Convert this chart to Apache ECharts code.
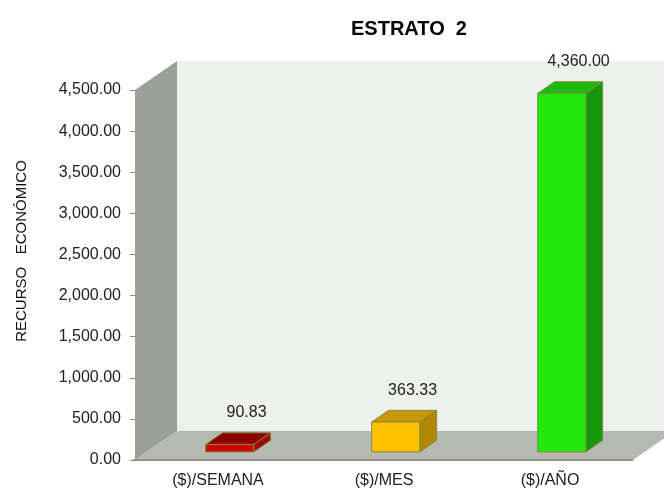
<!DOCTYPE html>
<html>
<head>
<meta charset="utf-8">
<script src="https://cdn.jsdelivr.net/npm/echarts@6/dist/echarts.min.js"></script>
<style>
  html, body { margin: 0; padding: 0; background: #ffffff; }
  #chart { width: 664px; height: 493px; }
</style>
</head>
<body>
<div id="chart"></div>
<script>
// Monthly / weekly / yearly economic resource for stratum 2
const categories = ['($)/SEMANA', '($)/MES', '($)/AÑO'];
const values = [90.83, 363.33, 4360.00];
const yMin = 0;
const yMax = 4500;
const yStep = 500;

// Face colours per bar: front, top, right side
const frontColors = ['#D40000', '#FFC000', '#22E80C'];
const topColors = ['#8E0000', '#C99700', '#1DB80B'];
const sideColors = ['#A20000', '#B38600', '#17980C'];
const edgeColor = '#7E8C3E';

// Oblique projection of the chart depth (pixels for the full floor depth)
const DX = 42, DY = 29;
const F1 = 0.28;       // bar front face depth fraction
const FD = 0.40;       // bar depth fraction
const BAR_W = 0.29;    // bar width as fraction of the band

const fmt = v => v.toLocaleString('en-US', { minimumFractionDigits: 2, maximumFractionDigits: 2 });

function renderWalls(params, api) {
  const cs = params.coordSys;
  const x0 = cs.x, x1 = cs.x + cs.width, y0 = cs.y, y1 = cs.y + cs.height;
  return {
    type: 'group',
    children: [
      { // back wall
        type: 'polygon',
        shape: { points: [[x0 + DX, y0 - DY], [x1 + DX + 40, y0 - DY], [x1 + DX + 40, y1 - DY], [x0 + DX, y1 - DY]] },
        style: { fill: '#EEF0EB' }
      },
      { // left side wall
        type: 'polygon',
        shape: { points: [[x0, y0], [x0 + DX, y0 - DY], [x0 + DX, y1 - DY], [x0, y1]] },
        style: { fill: '#9C9E98' }
      },
      { // floor
        type: 'polygon',
        shape: { points: [[x0, y1], [x0 + DX, y1 - DY], [x1 + DX, y1 - DY], [x1, y1]] },
        style: { fill: '#B6B8B2' }
      },
      { // floor front edge
        type: 'line',
        shape: { x1: x0 - 2, y1: y1, x2: x1, y2: y1 },
        style: { stroke: '#8F918C', lineWidth: 2 }
      }
    ]
  };
}

function renderBar(params, api) {
  const idx = api.value(0);
  const v = api.value(1);
  const top = api.coord([idx, v]);
  const base = api.coord([idx, 0]);
  const band = api.size([1, 0])[0];
  const w = band * BAR_W;
  const ox = DX * F1, oy = DY * F1;
  const dx = DX * FD, dy = DY * FD;
  const xl = top[0] - w / 2 + ox;
  const xr = top[0] + w / 2 + ox;
  const yt = top[1] - oy;
  const yb = base[1] - oy;
  const st = (fill) => ({ fill: fill, stroke: edgeColor, lineWidth: 1 });
  return {
    type: 'group',
    children: [
      { type: 'polygon', shape: { points: [[xr, yt], [xr + dx, yt - dy], [xr + dx, yb - dy], [xr, yb]] }, style: st(sideColors[idx]) },
      { type: 'polygon', shape: { points: [[xl, yt], [xl + dx, yt - dy], [xr + dx, yt - dy], [xr, yt]] }, style: st(topColors[idx]) },
      { type: 'rect', shape: { x: xl, y: yt, width: w, height: yb - yt }, style: st(frontColors[idx]) },
      {
        type: 'text',
        x: (xl + xr) / 2 + dx,
        y: yt - dy - 20,
        style: {
          text: fmt(v), align: 'center', verticalAlign: 'middle',
          fontFamily: 'Liberation Sans', fontSize: 16, fill: '#222222'
        }
      }
    ]
  };
}

const chart = echarts.init(document.getElementById('chart'), null, { renderer: 'canvas' });
chart.setOption({
  backgroundColor: '#ffffff',
  animation: false,
  title: {
    text: 'ESTRATO  2',
    left: 346, top: 14,
    textStyle: { fontFamily: 'Liberation Sans', fontSize: 20, fontWeight: 'bold', color: '#000000' }
  },
  graphic: [{
    type: 'text',
    x: 22, y: 251,
    rotation: Math.PI / 2,
    style: {
      text: 'RECURSO   ECONÓMICO', align: 'center', verticalAlign: 'middle',
      fontFamily: 'Liberation Sans', fontSize: 15, fill: '#111111'
    }
  }],
  grid: { left: 135, top: 90, width: 498, height: 370, containLabel: false },
  xAxis: {
    type: 'category',
    data: categories,
    axisLine: { show: false },
    axisTick: { show: false },
    splitLine: { show: false },
    axisLabel: { margin: 13, fontFamily: 'Liberation Sans', fontSize: 16, color: '#222222' }
  },
  yAxis: {
    type: 'value',
    min: yMin, max: yMax, interval: yStep,
    axisLine: { show: false },
    axisTick: { show: true, length: 5, lineStyle: { color: '#8A8A8A' } },
    splitLine: { show: false },
    axisLabel: {
      margin: 14, fontFamily: 'Liberation Sans', fontSize: 16, color: '#222222',
      formatter: fmt
    }
  },
  series: [
    {
      type: 'custom', z: 1, silent: true,
      renderItem: renderWalls,
      data: [[0, 0]]
    },
    {
      type: 'custom', z: 2,
      renderItem: renderBar,
      encode: { x: 0, y: 1 },
      data: values.map((v, i) => [i, v])
    }
  ]
});
</script>
</body>
</html>
